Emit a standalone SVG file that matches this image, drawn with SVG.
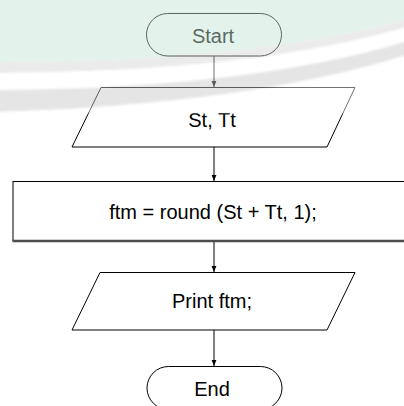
<svg xmlns="http://www.w3.org/2000/svg" width="404" height="406" viewBox="0 0 404 406">
  <style>
    .shape { fill: none; stroke: #000; stroke-width: 1; }
    .label { font-family: "Liberation Sans", Arial, sans-serif; font-size: 20px; fill: #000; text-anchor: middle; }
    .edge { stroke: #000; stroke-width: 1; fill: none; marker-end: url(#arrow); }
    .veil { opacity: 0.45; }
  </style>
  <defs>
    <marker id="arrow" markerUnits="userSpaceOnUse" markerWidth="6" markerHeight="6" viewBox="0 0 6 6" refX="6" refY="3" orient="auto">
      <path d="M0,0.6 L6,3 L0,5.4 Z" fill="#000"/>
    </marker>
    <filter id="soft" x="-10%" y="-10%" width="120%" height="140%">
      <feGaussianBlur stdDeviation="1.2"/>
    </filter>
  </defs>

  <rect x="0" y="0" width="404" height="406" fill="#fff"/>

  <!-- flowchart connectors -->
  <g id="connectors">
    <line class="edge" x1="214" y1="56" x2="214" y2="87"/>
    <line class="edge" x1="214" y1="147" x2="214" y2="181"/>
    <line class="edge" x1="214" y1="242" x2="214" y2="272"/>
    <line class="edge" x1="214" y1="330" x2="214" y2="366"/>
  </g>

  <g id="start">
    <rect class="shape" x="146.5" y="13.5" width="135" height="42.5" rx="21.25"/>
    <text class="label" x="213" y="43">Start</text>
  </g>

  <g id="input">
    <polygon class="shape" points="101,87.5 355,87.5 327,147 72,147"/>
    <text class="label" x="212" y="127">St, Tt</text>
  </g>

  <g id="process">
    <rect class="shape" x="13" y="181.5" width="400" height="59"/>
    <line x1="12.5" y1="241" x2="410" y2="241" stroke="#4d4d4d" stroke-width="2.5"/>
    <text class="label" x="213" y="219">ftm = round (St + Tt, 1);</text>
  </g>

  <g id="output">
    <polygon class="shape" points="100,272.5 355,272.5 327,330 72,330"/>
    <text class="label" x="212" y="308">Print ftm;</text>
  </g>

  <g id="end">
    <rect class="shape" x="147" y="366.5" width="135" height="43" rx="21.5"/>
    <text class="label" x="212" y="396">End</text>
  </g>

  <!-- translucent swoosh banner across the top -->
  <g class="veil" filter="url(#soft)">
    <path fill="#c3e4d4" d="M-20,-20 H424 V15 L404,20 Q250,62 0,62 L-20,62 Z"/>
    <path fill="#d3d3d3" d="M-20,62 L0,62 Q250,62 404,20 L424,15 L424,23 L404,28 Q250,72 0,73 L-20,73 Z"/>
    <path fill="#fff" d="M-20,73 L0,73 Q250,72 404,28 L424,23 L424,37 L404,42 Q250,88 0,90 L-20,90 Z"/>
    <path fill="#c7c7c7" d="M-20,90 L0,90 Q250,88 404,42 L424,37 L424,51 L404,56 Q250,104 0,112 L-20,112 Z"/>
    <path fill="#fff" d="M-20,112 L0,112 Q250,104 404,56 L424,51 L424,114 L-20,113 Z"/>
  </g>
</svg>
